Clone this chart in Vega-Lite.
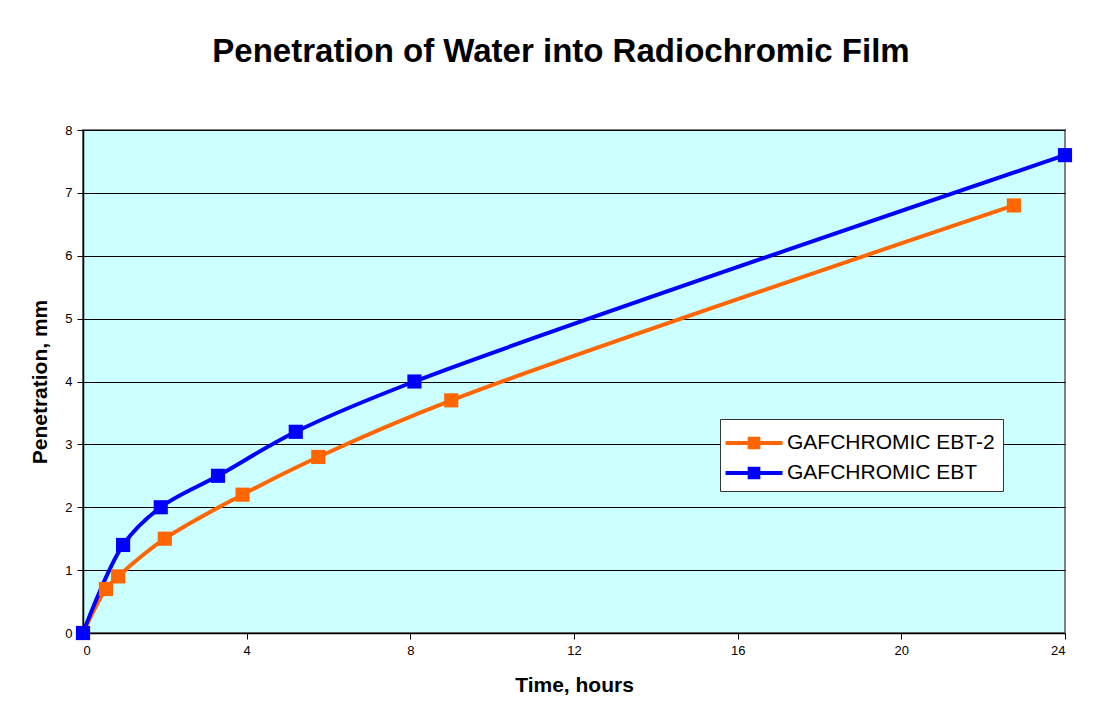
{
  "$schema": "https://vega.github.io/schema/vega-lite/v6.json",
  "width": 982,
  "height": 503,
  "autosize": {"type": "none"},
  "padding": {"left": 83, "top": 130, "right": 40, "bottom": 86},
  "background": "white",
  "title": {
    "text": "Penetration of Water into Radiochromic Film",
    "font": "Liberation Sans",
    "fontSize": 33,
    "fontWeight": "bold",
    "color": "black",
    "anchor": "middle",
    "offset": 55,
    "dx": -13
  },
  "config": {
    "view": {"fill": "#CCFFFF", "stroke": "#808080", "strokeWidth": 2},
    "font": "Liberation Sans"
  },
  "data": {
    "values": [
      {"series": "GAFCHROMIC EBT-2", "t": 0, "p": 0},
      {"series": "GAFCHROMIC EBT-2", "t": 0.56, "p": 0.7},
      {"series": "GAFCHROMIC EBT-2", "t": 0.86, "p": 0.9},
      {"series": "GAFCHROMIC EBT-2", "t": 2.0, "p": 1.5},
      {"series": "GAFCHROMIC EBT-2", "t": 3.9, "p": 2.2},
      {"series": "GAFCHROMIC EBT-2", "t": 5.75, "p": 2.8},
      {"series": "GAFCHROMIC EBT-2", "t": 9.0, "p": 3.7},
      {"series": "GAFCHROMIC EBT-2", "t": 22.75, "p": 6.8},
      {"series": "GAFCHROMIC EBT", "t": 0, "p": 0},
      {"series": "GAFCHROMIC EBT", "t": 0.98, "p": 1.4},
      {"series": "GAFCHROMIC EBT", "t": 1.9, "p": 2.0},
      {"series": "GAFCHROMIC EBT", "t": 3.3, "p": 2.5},
      {"series": "GAFCHROMIC EBT", "t": 5.2, "p": 3.2},
      {"series": "GAFCHROMIC EBT", "t": 8.1, "p": 4.0},
      {"series": "GAFCHROMIC EBT", "t": 24, "p": 7.6}
    ]
  },
  "encoding": {
    "x": {
      "field": "t", "type": "quantitative",
      "scale": {"domain": [0, 24], "nice": false},
      "axis": {
        "title": "Time, hours", "values": [0, 4, 8, 12, 16, 20, 24],
        "grid": false, "domainColor": "black", "domainWidth": 1.5,
        "tickColor": "black", "tickSize": 6, "labelFontSize": 13, "labelColor": "black",
        "labelPadding": 5, "titleFontSize": 21, "titleFontWeight": "bold",
        "titleColor": "black", "titlePadding": 17
      }
    },
    "y": {
      "field": "p", "type": "quantitative",
      "scale": {"domain": [0, 8], "nice": false},
      "axis": {
        "title": "Penetration, mm", "values": [0, 1, 2, 3, 4, 5, 6, 7, 8],
        "grid": true, "gridColor": "black", "gridWidth": 1, "gridOpacity": 1,
        "domainColor": "black", "domainWidth": 1.5,
        "tickColor": "black", "tickSize": 6, "labelFontSize": 13, "labelColor": "black",
        "labelPadding": 5, "titleFontSize": 21, "titleFontWeight": "bold",
        "titleColor": "black", "titlePadding": 14
      }
    },
    "color": {
      "field": "series", "type": "nominal",
      "scale": {"domain": ["GAFCHROMIC EBT-2", "GAFCHROMIC EBT"], "range": ["#FF6600", "#0000FF"]},
      "legend": {
        "title": null, "orient": "none", "legendX": 637, "legendY": 289,
        "direction": "vertical",
        "symbolType": "M-1.8,-0.13H1.8V0.13H-1.8Z M-0.4,-0.4H0.4V0.4H-0.4Z",
        "symbolSize": 1000, "symbolStrokeWidth": 0, "symbolOffset": 10,
        "labelFontSize": 21, "labelColor": "black", "labelFont": "Liberation Sans",
        "labelLimit": 0,
        "fillColor": "white", "strokeColor": "#333333", "padding": 8,
        "rowPadding": 4, "labelOffset": 17
      }
    }
  },
  "layer": [
    {"mark": {"type": "line", "interpolate": "catmull-rom", "strokeWidth": 4}},
    {"mark": {"type": "square", "filled": true, "size": 200, "opacity": 1}}
  ]
}
